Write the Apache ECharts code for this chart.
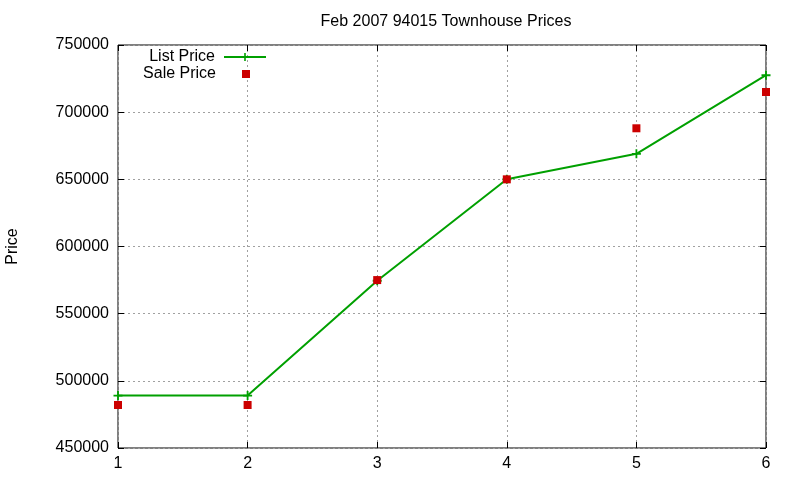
<!DOCTYPE html>
<html>
<head>
<meta charset="utf-8">
<script src="https://cdn.jsdelivr.net/npm/echarts@6/dist/echarts.min.js"></script>
<style>
  html, body { margin: 0; padding: 0; background: #fff; }
  #chart { width: 800px; height: 480px; }
</style>
</head>
<body>
<div id="chart"></div>
<script>
var xs = [1, 2, 3, 4, 5, 6]
var listPrice = [489000, 489000, 574500, 650000, 669000, 727500]
var salePrice = [482000, 482000, 575000, 650000, 688000, 715000]

var font = 'Liberation Sans, Arial, sans-serif'
var plus = 'path://M4,0H6V4H10V6H6V10H4V6H0V4H4Z'

function pairs(vals) {
    var out = []
    for (var i = 0; i < xs.length; i++) {
        out.push([xs[i], vals[i]])
    }
    return out
}

var myChart = echarts.init(document.getElementById('chart'))
var option = {
    animation: false,
    textStyle: { fontFamily: font },
    title: {
        text: 'Feb 2007 94015 Townhouse Prices',
        left: 441,
        textAlign: 'center',
        top: 9,
        textStyle: { fontSize: 16, fontWeight: 'normal', color: '#000', fontFamily: font }
    },
    legend: [
        {
            data: ['List Price'],
            right: 528,
            top: 44,
            align: 'right',
            itemWidth: 42,
            itemHeight: 10,
            itemGap: 0,
            textStyle: { fontSize: 16, color: '#000', fontFamily: font, padding: [0, 4, 0, 0] }
        },
        {
            data: [{ name: 'Sale Price', icon: 'rect' }],
            right: 545,
            top: 61,
            align: 'right',
            itemWidth: 8,
            itemHeight: 8,
            textStyle: { fontSize: 16, color: '#000', fontFamily: font, padding: [0, 21, 0, 0] }
        }
    ],
    grid: {
        left: 118,
        right: 34,
        top: 45,
        bottom: 32,
        outerBoundsMode: 'none',
        containLabel: false,
        show: true,
        borderColor: '#000',
        borderWidth: 1
    },
    xAxis: [
        {
            type: 'value',
            min: 1,
            max: 6,
            interval: 1,
            axisLine: { show: false },
            axisTick: { inside: true, length: 6, lineStyle: { color: '#000' } },
            axisLabel: { fontSize: 16, color: '#000', margin: 8, fontFamily: font },
            splitLine: { show: true, lineStyle: { color: '#a0a0a0', type: [2, 3] } }
        },
        {
            type: 'value',
            position: 'top',
            min: 1,
            max: 6,
            interval: 1,
            axisLine: { show: false },
            axisTick: { inside: true, length: 6, lineStyle: { color: '#000' } },
            axisLabel: { show: false },
            splitLine: { show: false }
        }
    ],
    yAxis: [
        {
            type: 'value',
            min: 450000,
            max: 750000,
            interval: 50000,
            name: 'Price',
            nameLocation: 'middle',
            nameGap: 97,
            nameTextStyle: { fontSize: 16, color: '#000', fontFamily: font },
            axisLine: { show: false },
            axisTick: { inside: true, length: 6, lineStyle: { color: '#000' } },
            axisLabel: {
                fontSize: 16, color: '#000', margin: 9, fontFamily: font,
                formatter: function (v) { return String(v) }
            },
            splitLine: { show: true, lineStyle: { color: '#a0a0a0', type: [2, 3] } }
        },
        {
            type: 'value',
            position: 'right',
            min: 450000,
            max: 750000,
            interval: 50000,
            axisLine: { show: false },
            axisTick: { inside: true, length: 6, lineStyle: { color: '#000' } },
            axisLabel: { show: false },
            splitLine: { show: false }
        }
    ],
    series: [
        {
            name: 'List Price',
            type: 'line',
            data: pairs(listPrice),
            symbol: plus,
            symbolSize: 9,
            showAllSymbol: true,
            lineStyle: { color: '#00a000', width: 2 },
            itemStyle: { color: '#00a000' },
            z: 3
        },
        {
            name: 'Sale Price',
            type: 'scatter',
            data: pairs(salePrice),
            symbol: 'rect',
            symbolSize: 8,
            itemStyle: { color: '#cc0000', opacity: 1 },
            z: 4
        }
    ]
}
myChart.setOption(option)
</script>
</body>
</html>
